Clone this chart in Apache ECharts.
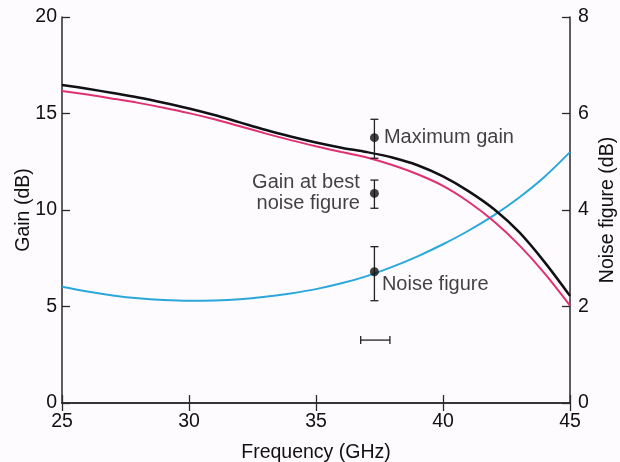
<!DOCTYPE html>
<html>
<head>
<meta charset="utf-8">
<script src="https://cdn.jsdelivr.net/npm/echarts@6/dist/echarts.min.js"></script>
<style>
html,body{margin:0;padding:0;background:#fdfbfd;}
#chart{width:620px;height:462px;}
</style>
</head>
<body>
<div id="chart"></div>
<script>
// Frequency grid (GHz)
const freq = [25, 26, 27, 28, 29, 30, 31, 32, 33, 34, 35, 36, 37, 38, 39, 40, 41, 42, 43, 44, 45];
// Maximum gain (dB, left axis)
const maxGain = [16.48, 16.28, 16.06, 15.83, 15.56, 15.26, 14.92, 14.54, 14.16, 13.81, 13.5, 13.23, 13.0, 12.72, 12.32, 11.74, 10.98, 10.05, 8.85, 7.3, 5.55];
// Gain at best noise figure (dB, left axis)
const gainBestNF = [16.17, 15.98, 15.77, 15.55, 15.3, 15.02, 14.7, 14.34, 13.97, 13.62, 13.3, 13.0, 12.72, 12.33, 11.85, 11.25, 10.43, 9.42, 8.18, 6.72, 5.05];
// Noise figure (dB, right axis)
const noiseFigure = [2.41, 2.31, 2.23, 2.17, 2.135, 2.12, 2.125, 2.15, 2.2, 2.27, 2.36, 2.48, 2.63, 2.82, 3.04, 3.29, 3.57, 3.89, 4.26, 4.69, 5.2];

// Measured points with error bars: [freq, centre, low, high]
const maxGainPoint = [37.3, 13.75, 12.68, 14.7];
const bestNFPoint = [37.3, 10.86, 10.09, 11.55];
const nfPoint = [37.3, 2.72, 2.12, 3.24];
// Frequency uncertainty bar: [fLow, fHigh, gain]
const freqErr = [36.76, 37.91, 3.26];

// Tick settings
const xTicks = {min: 25, max: 45, interval: 5};
const gainTicks = {min: 0, max: 20, interval: 5};
const nfTicks = {min: 0, max: 8, interval: 2};

const labelsTxt = ['Maximum gain', 'Gain at best\nnoise figure', 'Noise figure'];

const FONT = 'Liberation Sans, Arial, Helvetica, sans-serif';
const axisColor = '#2a2a2a';
const textColor = '#111';

function vBar(params, api) {
  const x = api.value(0), lo = api.value(2), hi = api.value(3);
  const pLo = api.coord([x, lo]);
  const pHi = api.coord([x, hi]);
  const w = 4;
  const st = {stroke: '#222', lineWidth: 1.3};
  return {type: 'group', children: [
    {type: 'line', shape: {x1: pLo[0], y1: pLo[1], x2: pHi[0], y2: pHi[1]}, style: st},
    {type: 'line', shape: {x1: pLo[0] - w, y1: pLo[1], x2: pLo[0] + w, y2: pLo[1]}, style: st},
    {type: 'line', shape: {x1: pHi[0] - w, y1: pHi[1], x2: pHi[0] + w, y2: pHi[1]}, style: st}
  ]};
}
function hBar(params, api) {
  const a = api.coord([api.value(0), api.value(2)]);
  const b = api.coord([api.value(1), api.value(2)]);
  const h = 4;
  const st = {stroke: '#222', lineWidth: 1.3};
  return {type: 'group', children: [
    {type: 'line', shape: {x1: a[0], y1: a[1], x2: b[0], y2: b[1]}, style: st},
    {type: 'line', shape: {x1: a[0], y1: a[1] - h, x2: a[0], y2: a[1] + h}, style: st},
    {type: 'line', shape: {x1: b[0], y1: b[1] - h, x2: b[0], y2: b[1] + h}, style: st}
  ]};
}

const chart = echarts.init(document.getElementById('chart'), null, {renderer: 'canvas'});
const lblStyle = {show: true, fontFamily: FONT, fontSize: 20, color: textColor};
const tickFont = {fontFamily: FONT, fontSize: 19.5, color: textColor};
const nameFont = {fontFamily: FONT, fontSize: 19.5, color: textColor};

chart.setOption({
  backgroundColor: '#fdfbfd',
  animation: false,
  grid: {left: 62, right: 50, top: 17, bottom: 59, containLabel: false, outerBoundsMode: 'none'},
  xAxis: [{
    type: 'value', position: 'bottom', min: xTicks.min, max: xTicks.max, interval: xTicks.interval,
    name: 'Frequency (GHz)', nameLocation: 'middle', nameGap: 40, nameMoveOverlap: false,
    nameTextStyle: nameFont,
    axisLine: {show: true, lineStyle: {color: axisColor, width: 1.5}},
    axisTick: {show: true, inside: true, length: 8, lineStyle: {color: axisColor, width: 1.3}},
    axisLabel: Object.assign({margin: 9}, tickFont),
    splitLine: {show: false}
  }, {
    type: 'value', position: 'top', min: xTicks.min, max: xTicks.max, interval: xTicks.interval,
    axisLine: {show: true, lineStyle: {color: axisColor, width: 1.5}},
    axisTick: {show: true, inside: true, length: 8, lineStyle: {color: axisColor, width: 1.3}},
    axisLabel: {show: false},
    splitLine: {show: false}
  }],
  yAxis: [{
    type: 'value', position: 'left', min: gainTicks.min, max: gainTicks.max, interval: gainTicks.interval,
    name: 'Gain (dB)', nameLocation: 'middle', nameGap: 28, nameMoveOverlap: false,
    nameTextStyle: nameFont,
    axisLine: {show: true, lineStyle: {color: axisColor, width: 1.5}},
    axisTick: {show: true, inside: true, length: 8, lineStyle: {color: axisColor, width: 1.3}},
    axisLabel: Object.assign({margin: 5}, tickFont),
    splitLine: {show: false}
  }, {
    type: 'value', position: 'right', min: nfTicks.min, max: nfTicks.max, interval: nfTicks.interval,
    name: 'Noise figure (dB)', nameLocation: 'middle', nameGap: 28, nameMoveOverlap: false,
    nameTextStyle: nameFont,
    axisLine: {show: true, lineStyle: {color: axisColor, width: 1.5}},
    axisTick: {show: true, inside: true, length: 8, lineStyle: {color: axisColor, width: 1.3}},
    axisLabel: Object.assign({margin: 8}, tickFont),
    splitLine: {show: false}
  }],
  series: [
    {type: 'line', name: 'Noise figure', yAxisIndex: 1, smooth: 0.3, symbol: 'none',
     lineStyle: {color: '#2aa8dc', width: 2}, data: freq.map((f, i) => [f, noiseFigure[i]]), z: 2},
    {type: 'line', name: 'Gain at best noise figure', yAxisIndex: 0, smooth: 0.3, symbol: 'none',
     lineStyle: {color: '#e0316e', width: 2}, data: freq.map((f, i) => [f, gainBestNF[i]]), z: 3},
    {type: 'line', name: 'Maximum gain', yAxisIndex: 0, smooth: 0.3, symbol: 'none',
     lineStyle: {color: '#111111', width: 2.5}, data: freq.map((f, i) => [f, maxGain[i]]), z: 4},
    {type: 'custom', yAxisIndex: 0, renderItem: vBar, data: [maxGainPoint, bestNFPoint], z: 5},
    {type: 'custom', yAxisIndex: 1, renderItem: vBar, data: [nfPoint], z: 5},
    {type: 'custom', yAxisIndex: 0, renderItem: hBar, data: [freqErr], z: 5},
    {type: 'scatter', yAxisIndex: 0, symbol: 'circle', symbolSize: 9, itemStyle: {color: '#111'}, z: 6,
     data: [
       {value: [maxGainPoint[0], maxGainPoint[1]], label: Object.assign({}, lblStyle, {position: 'right', distance: 5, formatter: labelsTxt[0]})},
       {value: [bestNFPoint[0], bestNFPoint[1]], label: Object.assign({}, lblStyle, {position: 'left', distance: 10, align: 'right', lineHeight: 21, formatter: labelsTxt[1]})}
     ]},
    {type: 'scatter', yAxisIndex: 1, symbol: 'circle', symbolSize: 9, itemStyle: {color: '#111'}, z: 6,
     data: [
       {value: [nfPoint[0], nfPoint[1]], label: Object.assign({}, lblStyle, {position: 'right', distance: 3, offset: [0, 13], formatter: labelsTxt[2]})}
     ]}
  ]
});
</script>
</body>
</html>
